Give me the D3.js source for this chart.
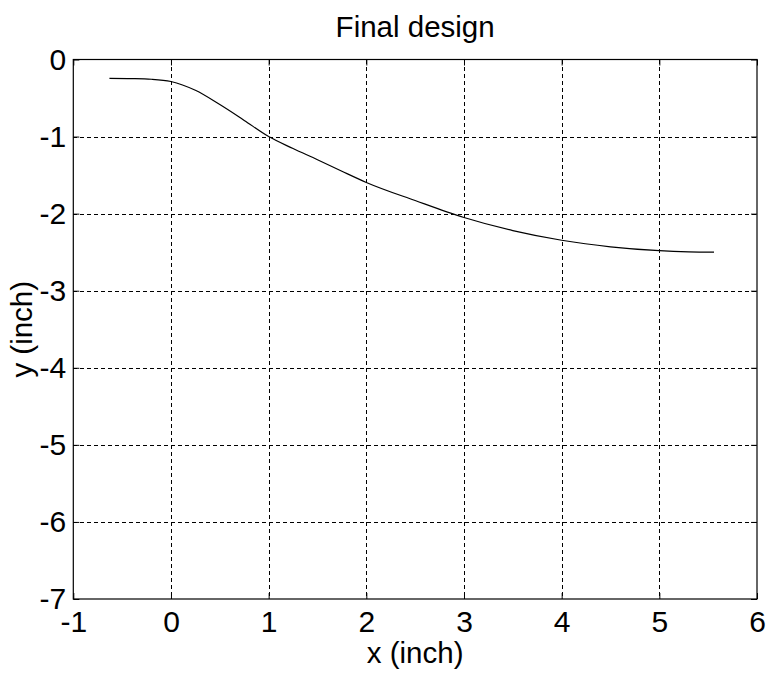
<!DOCTYPE html>
<html>
<head>
<meta charset="utf-8">
<script src="https://cdn.jsdelivr.net/npm/d3@7"></script>
<style>
  body { margin: 0; background: #fff; }
  svg { display: block; }
  text { font-family: "Liberation Sans", Arial, sans-serif; fill: #000; }
</style>
</head>
<body>
<div id="container"></div>
<script>
const width = 769, height = 675;
const margin = {top: 59.5, right: 12, bottom: 76, left: 73.3};

// data
const xValues = [-0.63, -0.4, -0.2, 0, 0.25, 0.5, 0.75, 1, 1.25, 1.5, 1.75, 2, 2.5, 3, 3.5, 4, 4.5, 5, 5.3, 5.56];
const yValues = [-0.245, -0.248, -0.256, -0.285, -0.40, -0.585, -0.79, -1.0, -1.155, -1.30, -1.45, -1.595, -1.83, -2.05, -2.22, -2.345, -2.43, -2.48, -2.495, -2.50];
const xTicks = [-1, 0, 1, 2, 3, 4, 5, 6];
const yTicks = [0, -1, -2, -3, -4, -5, -6, -7];

const titleText = "Final design";
const xLabel = "x (inch)";
const yLabel = "y (inch)";

const points = xValues.map((x, i) => ({x: x, y: yValues[i]}));

const x = d3.scaleLinear().domain([-1, 6]).range([margin.left, width - margin.right]);
const y = d3.scaleLinear().domain([-7, 0]).range([height - margin.bottom, margin.top]);

const tickFont = 30, labelFont = 29.5;
const fmt = d => String(d); // plain hyphen minus, like the original

const svg = d3.select("#container").append("svg")
    .attr("width", width)
    .attr("height", height);

// grid
const grid = svg.append("g")
    .attr("stroke", "#000")
    .attr("stroke-width", 1)
    .attr("stroke-dasharray", "4,3")
    .attr("shape-rendering", "crispEdges");

grid.selectAll("line.gx")
    .data(xTicks.slice(1, -1))
    .enter().append("line")
    .attr("class", "gx")
    .attr("x1", d => Math.round(x(d)) + 0.5).attr("x2", d => Math.round(x(d)) + 0.5)
    .attr("y1", y(0)).attr("y2", y(-7));

grid.selectAll("line.gy")
    .data(yTicks.slice(1, -1))
    .enter().append("line")
    .attr("class", "gy")
    .attr("y1", d => Math.round(y(d)) + 0.5).attr("y2", d => Math.round(y(d)) + 0.5)
    .attr("x1", x(-1)).attr("x2", x(6));

// axes with inward ticks
const xAxisBottom = d3.axisBottom(x).tickValues(xTicks).tickSize(-6).tickPadding(12).tickFormat(fmt);
const xAxisTop = d3.axisTop(x).tickValues(xTicks).tickSize(-6).tickFormat("");
const yAxisLeft = d3.axisLeft(y).tickValues(yTicks).tickSize(-6).tickPadding(7).tickFormat(fmt);
const yAxisRight = d3.axisRight(y).tickValues(yTicks).tickSize(-6).tickFormat("");

function styleAxis(g) {
    g.attr("font-size", tickFont).attr("font-family", "Liberation Sans, Arial, sans-serif");
    g.select(".domain").remove();
    g.selectAll("line").attr("stroke", "#000");
    g.selectAll("text").attr("fill", "#000");
}

svg.append("g")
    .attr("transform", `translate(0,${y(-7)})`)
    .call(xAxisBottom).call(styleAxis);
svg.append("g")
    .attr("transform", `translate(0,${y(0)})`)
    .call(xAxisTop).call(styleAxis);
svg.append("g")
    .attr("transform", `translate(${x(-1)},0)`)
    .call(yAxisLeft).call(styleAxis);
svg.append("g")
    .attr("transform", `translate(${x(6)},0)`)
    .call(yAxisRight).call(styleAxis);

// box
svg.append("rect")
    .attr("x", x(-1)).attr("y", y(0))
    .attr("width", x(6) - x(-1)).attr("height", y(-7) - y(0))
    .attr("fill", "none")
    .attr("stroke", "#000")
    .attr("stroke-width", 1.2);

// curve
const line = d3.line()
    .x(d => x(d.x))
    .y(d => y(d.y))
    .curve(d3.curveMonotoneX);

svg.append("path")
    .datum(points)
    .attr("fill", "none")
    .attr("stroke", "#000")
    .attr("stroke-width", 1.2)
    .attr("d", line);

// labels
svg.append("text")
    .attr("x", (x(-1) + x(6)) / 2)
    .attr("y", 37)
    .attr("text-anchor", "middle")
    .attr("font-size", labelFont)
    .text(titleText);

svg.append("text")
    .attr("x", (x(-1) + x(6)) / 2)
    .attr("y", 663)
    .attr("text-anchor", "middle")
    .attr("font-size", labelFont)
    .text(xLabel);

svg.append("text")
    .attr("transform", `translate(32,${(y(0) + y(-7)) / 2}) rotate(-90)`)
    .attr("text-anchor", "middle")
    .attr("font-size", labelFont)
    .text(yLabel);
</script>
</body>
</html>
